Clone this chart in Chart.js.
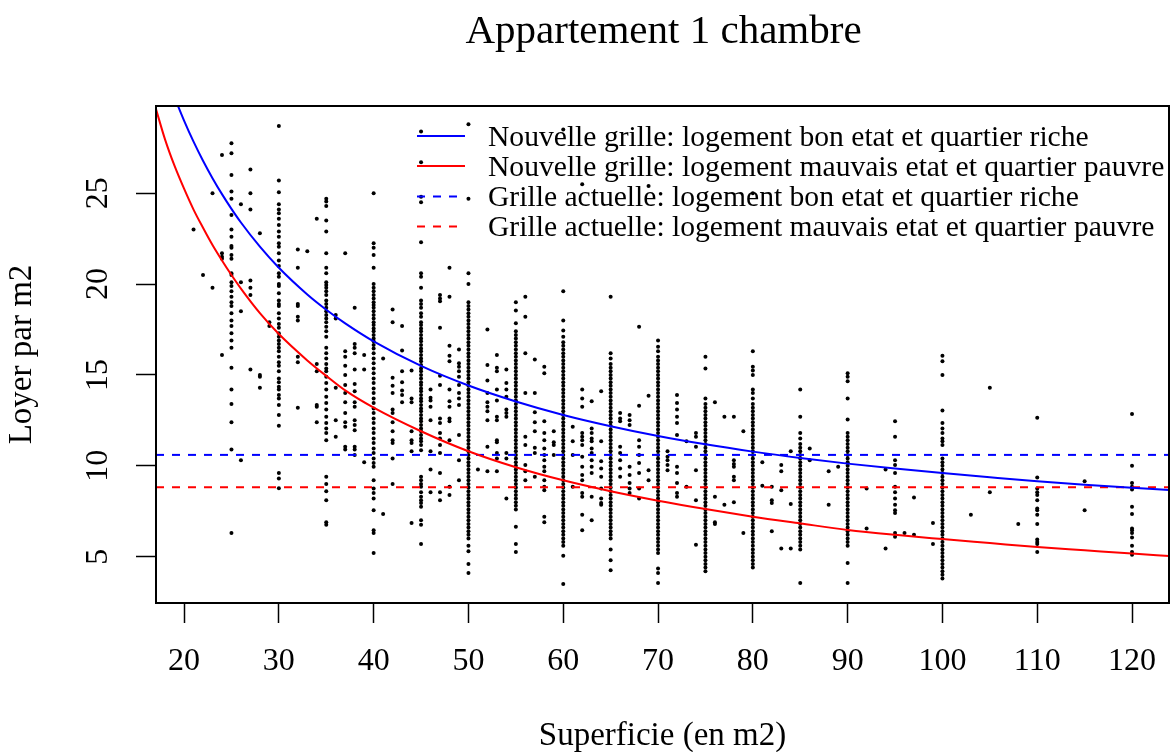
<!DOCTYPE html>
<html>
<head>
<meta charset="utf-8">
<script src="https://cdn.jsdelivr.net/npm/chart.js@4.4.0/dist/chart.umd.min.js"></script>
<style>
html,body{margin:0;padding:0;background:#ffffff;}
canvas{display:block;}
</style>
</head>
<body>
<canvas id="c" width="1171" height="752"></canvas>
<script>
// ---------- text ----------
const titleText = "Appartement 1 chambre";
const xTitleText = "Superficie (en m2)";
const yTitleText = "Loyer par m2";
const legendLabels = [
  "Nouvelle grille: logement bon etat et quartier riche",
  "Nouvelle grille: logement mauvais etat et quartier pauvre",
  "Grille actuelle: logement bon etat et quartier riche",
  "Grille actuelle: logement mauvais etat et quartier pauvre"
];

// ---------- axes ----------
const xTicks = [20, 30, 40, 50, 60, 70, 80, 90, 100, 110, 120];
const yTicks = [5, 10, 15, 20, 25];
const xRange = [17.04, 123.9];
const yRange = [2.45, 29.8];

// ---------- observations: surface (m2) and rents per m2 observed at that surface ----------
const surfaces = [21,22,23,24,25,26,27,28,29,30,32,33,34,35,36,37,38,39,40,41,42,43,44,45,46,47,48,49,50,51,52,53,54,55,56,57,58,59,60,61,62,63,64,65,66,67,68,69,70,71,72,73,74,75,76,77,78,79,80,81,82,83,84,85,86,88,89,90,92,94,95,96,97,99,100,103,105,108,110,115,120];
const loyers = [
  [23.0],
  [20.5],
  [25.0, 19.8],
  [27.1, 21.7, 21.5, 21.4, 16.1],
  [27.75, 27.2, 26.0, 25.1, 24.7, 23.8, 23.0, 22.6, 22.1, 22.0, 21.6, 21.4, 20.6, 20.5, 20.1, 19.9, 19.6, 19.3, 19.0, 18.8, 18.4, 18.0, 17.7, 17.3, 16.9, 16.5, 15.4, 14.2, 13.4, 12.4, 10.9, 6.3],
  [24.4, 20.1, 18.5, 10.3],
  [26.3, 25.0, 24.1, 20.2, 19.8, 19.4, 15.3],
  [22.8, 15.0, 14.9, 14.3],
  [17.9, 17.7],
  [28.7, 25.7, 25.05, 24.4, 24.1, 23.9, 23.6, 23.25, 22.9, 22.6, 22.25, 22.05, 21.7, 21.3, 21.0, 20.6, 20.4, 20.0, 19.9, 19.5, 19.1, 18.9, 18.8, 18.4, 18.1, 17.8, 17.6, 17.3, 17.1, 16.9, 16.7, 16.5, 16.3, 16.0, 15.7, 15.5, 15.2, 14.8, 14.6, 14.35, 14.2, 13.9, 13.7, 13.35, 12.8, 12.2, 9.6, 9.3, 8.76],
  [21.9, 20.9, 18.9, 18.8, 18.2, 18.0, 16.0, 15.7, 13.2],
  [21.8],
  [23.6, 15.6, 15.2, 13.35, 13.25, 12.4],
  [24.7, 24.55, 24.3, 23.5, 22.9, 21.7, 20.9, 20.6, 20.1, 19.95, 19.8, 19.6, 19.4, 19.1, 18.9, 18.7, 18.5, 18.3, 18.1, 17.9, 17.65, 17.4, 17.1, 16.5, 16.2, 15.9, 15.6, 15.35, 15.2, 14.9, 14.55, 14.2, 13.8, 13.45, 13.1, 12.7, 12.35, 12.05, 11.8, 11.4, 9.4, 9.0, 8.6, 8.1, 6.9, 6.75],
  [18.3, 18.1, 14.3, 12.5, 11.6],
  [21.7, 16.3, 16.0, 15.5, 15.0, 14.45, 14.0, 13.5, 12.9, 12.4, 12.15, 11.05, 10.9],
  [18.7, 16.7, 16.5, 16.2, 15.3, 14.5, 14.1, 13.5, 13.25, 12.5, 12.25, 11.95, 11.05, 10.9, 10.6],
  [16.1, 15.3, 10.2],
  [25.0, 22.25, 22.0, 21.6, 20.9, 20.0, 19.8, 19.6, 19.4, 19.2, 19.0, 18.85, 18.7, 18.5, 18.3, 18.1, 17.9, 17.75, 17.55, 17.4, 17.2, 17.0, 16.85, 16.65, 16.45, 16.2, 15.9, 15.65, 15.35, 15.1, 14.8, 14.55, 14.25, 14.0, 13.7, 13.45, 13.15, 12.9, 12.6, 12.35, 12.05, 11.8, 11.5, 11.25, 10.95, 10.7, 10.4, 10.15, 9.95, 9.2, 8.75, 8.5, 8.2, 7.55, 6.45, 6.3, 5.2],
  [15.9, 7.35],
  [18.6, 17.9, 14.85, 14.4, 14.0, 13.1, 12.9, 12.4, 11.9, 11.4, 11.25, 10.4, 9.0],
  [17.7, 16.35, 15.2, 14.6, 14.15, 13.9, 13.5],
  [15.25, 13.7, 13.5, 11.9, 11.4, 11.25, 10.8, 6.85],
  [28.4, 26.7, 24.8, 24.5, 22.3, 20.6, 20.4, 19.8, 19.1, 18.9, 18.7, 18.4, 18.2, 17.9, 17.75, 17.55, 17.4, 17.2, 17.0, 16.85, 16.65, 16.45, 16.3, 16.1, 15.9, 15.75, 15.55, 15.35, 15.2, 15.0, 14.8, 14.6, 14.45, 14.25, 14.1, 13.9, 13.7, 13.55, 13.35, 13.15, 13.0, 12.8, 12.6, 12.45, 12.25, 12.05, 11.9, 11.7, 11.5, 11.35, 11.15, 10.85, 9.4, 9.2, 9.0, 8.85, 8.55, 8.3, 8.1, 7.95, 7.75, 7.0, 6.75, 5.7],
  [14.2, 13.75, 13.6, 13.25, 12.5, 10.8, 9.8, 8.55],
  [19.4, 19.2, 19.05, 17.6, 14.95, 14.45, 12.6, 12.35, 11.8, 11.5, 11.15, 10.7, 9.6, 8.55, 8.1],
  [20.9, 19.3, 16.6, 16.05, 15.75, 14.2, 13.55, 13.25, 12.6, 12.45, 11.4, 8.85, 8.4],
  [16.4, 15.65, 15.45, 15.2, 14.9, 14.45, 14.0, 13.7, 13.35, 11.7, 10.3, 9.2],
  [28.8, 24.7, 20.6, 20.0, 19.0, 18.8, 18.6, 18.4, 18.2, 18.0, 17.8, 17.6, 17.4, 17.2, 17.0, 16.8, 16.6, 16.4, 16.2, 16.0, 15.8, 15.6, 15.4, 15.2, 15.0, 14.8, 14.6, 14.4, 14.2, 14.0, 13.8, 13.6, 13.4, 13.2, 13.0, 12.8, 12.6, 12.4, 12.2, 12.0, 11.8, 11.6, 11.4, 11.2, 11.0, 10.8, 10.6, 10.4, 10.2, 10.0, 9.8, 9.6, 9.4, 9.2, 9.0, 8.8, 8.6, 8.4, 8.2, 8.0, 7.8, 7.6, 7.4, 7.2, 7.0, 6.8, 6.6, 6.4, 6.2, 6.0, 5.6, 5.3, 4.6, 4.1],
  [9.8],
  [17.5, 15.55, 14.7, 14.0, 13.5, 13.25, 13.0, 12.5, 11.05, 9.7],
  [16.1, 15.4, 15.2, 14.2, 13.6, 12.7, 12.5, 11.4, 11.3, 10.7, 10.4, 9.7],
  [15.3, 14.55, 14.2, 13.8, 13.1, 12.9, 12.7, 10.7, 10.4, 8.2],
  [19.0, 18.55, 17.85, 17.4, 17.2, 17.0, 16.8, 16.6, 16.4, 16.2, 16.0, 15.8, 15.6, 15.4, 15.2, 15.0, 14.8, 14.6, 14.4, 14.2, 14.0, 13.8, 13.6, 13.4, 13.2, 13.0, 12.8, 12.6, 12.4, 12.2, 12.0, 11.8, 11.6, 11.4, 11.2, 11.0, 10.8, 10.6, 10.4, 10.2, 10.0, 9.8, 9.6, 9.4, 9.2, 9.0, 8.8, 8.6, 8.4, 8.2, 8.0, 7.8, 7.6, 6.65, 5.7, 5.25],
  [19.3, 18.2, 16.2, 14.0, 11.6, 11.15, 10.05, 9.7, 9.2],
  [15.85, 14.0, 12.95, 12.4, 11.9, 11.0, 10.7, 9.4],
  [15.45, 15.1, 12.45, 11.8, 11.4, 10.95, 10.6, 10.3, 9.95, 9.7, 9.2, 8.85, 8.65, 7.2, 6.9],
  [11.9, 11.3, 11.15, 10.6],
  [28.5, 19.6, 18.0, 17.45, 17.1, 16.8, 16.6, 16.4, 16.2, 16.0, 15.8, 15.6, 15.4, 15.2, 15.0, 14.8, 14.6, 14.4, 14.2, 14.0, 13.8, 13.6, 13.4, 13.2, 13.0, 12.8, 12.6, 12.4, 12.2, 12.0, 11.8, 11.6, 11.4, 11.2, 11.0, 10.8, 10.6, 10.4, 10.2, 10.0, 9.8, 9.6, 9.4, 9.2, 9.0, 8.8, 8.6, 8.4, 8.2, 8.0, 7.8, 7.6, 7.4, 7.2, 7.0, 6.8, 6.6, 6.4, 6.2, 6.0, 5.8, 5.6, 5.05, 3.5],
  [12.15, 11.35, 10.6, 8.85],
  [25.5, 14.2, 13.7, 13.25, 11.8, 11.6, 11.4, 11.15, 10.5, 9.95, 9.5, 9.2, 8.5, 8.3, 7.3, 6.45],
  [13.55, 12.05, 11.8, 11.5, 11.35, 10.95, 10.7, 10.3, 9.95, 9.6, 8.3, 7.0],
  [14.1, 11.35, 10.25, 9.85, 9.4, 8.75, 8.2, 7.95, 7.85],
  [19.3, 16.2, 15.9, 15.6, 15.4, 15.2, 15.0, 14.8, 14.6, 14.4, 14.2, 14.0, 13.8, 13.6, 13.4, 13.2, 13.0, 12.8, 12.6, 12.4, 12.2, 12.0, 11.8, 11.6, 11.4, 11.2, 11.0, 10.8, 10.6, 10.4, 10.2, 10.0, 9.8, 9.6, 9.4, 9.2, 9.0, 8.8, 8.6, 8.4, 8.2, 8.0, 7.8, 7.6, 7.4, 7.2, 7.0, 6.8, 6.6, 6.4, 6.2, 6.0, 5.4, 4.8, 4.25],
  [12.9, 12.6, 12.45, 11.05, 10.7, 10.3, 9.85, 9.4],
  [12.8, 12.5, 12.25, 9.95, 9.5, 9.05, 8.75, 8.5],
  [17.65, 13.3, 11.4, 11.05, 10.6, 10.15, 9.6, 8.75, 8.2],
  [25.4, 13.85, 9.75, 9.2],
  [16.9, 16.55, 16.3, 16.0, 15.8, 15.6, 15.4, 15.2, 15.0, 14.8, 14.6, 14.4, 14.2, 14.0, 13.8, 13.6, 13.4, 13.2, 13.0, 12.8, 12.6, 12.4, 12.2, 12.0, 11.8, 11.6, 11.4, 11.2, 11.0, 10.8, 10.6, 10.4, 10.2, 10.0, 9.8, 9.6, 9.4, 9.2, 9.0, 8.8, 8.6, 8.4, 8.2, 8.0, 7.8, 7.6, 7.4, 7.2, 7.0, 6.8, 6.6, 6.4, 6.2, 6.0, 5.8, 5.6, 5.4, 5.2, 4.35, 4.1, 3.55],
  [10.8, 10.5, 10.3, 10.05, 9.75],
  [13.9, 13.45, 13.1, 12.7, 12.35, 11.7, 9.95, 9.6, 9.05, 8.5, 8.3],
  [11.35, 8.85],
  [11.8, 11.6, 11.05, 9.75, 8.1, 5.65],
  [16.0, 15.35, 13.7, 13.4, 13.2, 13.0, 12.8, 12.6, 12.4, 12.2, 12.0, 11.8, 11.6, 11.4, 11.2, 11.0, 10.8, 10.6, 10.4, 10.2, 10.0, 9.8, 9.6, 9.4, 9.2, 9.0, 8.8, 8.6, 8.4, 8.2, 8.0, 7.8, 7.6, 7.4, 7.2, 7.0, 6.8, 6.6, 6.4, 6.2, 6.0, 5.8, 5.6, 5.4, 5.2, 5.0, 4.8, 4.6, 4.4, 4.2],
  [13.5, 8.3, 6.9, 6.8],
  [12.7, 7.85],
  [12.7, 10.3, 10.1, 9.95, 9.4, 9.2, 8.0],
  [11.9, 6.3],
  [25.0, 16.3, 15.45, 15.25, 15.0, 14.2, 14.0, 13.7, 13.4, 13.2, 13.0, 12.8, 12.6, 12.4, 12.2, 12.0, 11.8, 11.6, 11.4, 11.2, 11.0, 10.8, 10.6, 10.4, 10.2, 10.0, 9.8, 9.6, 9.4, 9.2, 9.0, 8.8, 8.6, 8.4, 8.2, 8.0, 7.8, 7.6, 7.4, 7.2, 7.0, 6.8, 6.6, 6.4, 6.2, 6.0, 5.8, 5.6, 5.4, 5.2, 5.0, 4.8, 4.6, 4.4],
  [10.2, 8.9],
  [8.85, 8.1, 7.95, 6.4],
  [10.05, 9.7, 8.65, 5.45],
  [10.8, 7.9, 5.45],
  [14.2, 12.7, 11.8, 11.5, 11.2, 11.0, 10.8, 10.6, 10.4, 10.2, 10.0, 9.8, 9.6, 9.4, 9.2, 9.0, 8.8, 8.6, 8.4, 8.2, 8.0, 7.8, 7.6, 7.4, 7.2, 7.0, 6.8, 6.6, 6.4, 6.2, 6.0, 5.8, 5.6, 5.4, 3.55],
  [10.95, 10.3],
  [9.7, 7.85],
  [9.95],
  [15.1, 14.9, 14.65, 13.7, 12.55, 11.8, 11.6, 11.4, 11.2, 11.0, 10.8, 10.6, 10.4, 10.2, 10.0, 9.8, 9.6, 9.4, 9.2, 9.0, 8.8, 8.6, 8.4, 8.2, 8.0, 7.8, 7.6, 7.4, 7.2, 7.0, 6.8, 6.6, 6.4, 6.2, 6.0, 5.8, 5.6, 4.65, 3.55],
  [8.75, 6.55],
  [9.8, 5.45],
  [12.45, 11.6, 10.3, 10.05, 9.6, 8.85, 8.55, 8.2, 7.85, 7.55, 7.4, 6.3, 6.1],
  [6.3],
  [8.25, 6.2],
  [6.85, 5.7],
  [16.05, 15.75, 15.0, 13.05, 12.35, 12.05, 11.8, 11.5, 11.35, 11.15, 10.4, 10.2, 10.0, 9.8, 9.6, 9.4, 9.2, 9.0, 8.8, 8.6, 8.4, 8.2, 8.0, 7.8, 7.6, 7.4, 7.2, 7.0, 6.8, 6.6, 6.4, 6.2, 6.0, 5.8, 5.6, 5.4, 5.2, 5.0, 4.8, 4.6, 4.4, 4.2, 4.0, 3.8],
  [7.3],
  [14.3, 8.55],
  [6.8],
  [12.65, 9.35, 8.75, 8.55, 8.4, 8.1, 7.65, 7.55, 7.3, 6.8, 5.95, 5.8, 5.7, 5.25],
  [9.15, 7.55],
  [12.85, 10.0, 9.05, 8.85, 8.7, 7.75, 7.35, 6.55, 6.45, 6.3, 6.05, 5.6, 5.25, 5.1]
];

// ---------- grids (curves) ----------
const curveX = [17, 18, 19, 20, 21, 22, 23, 24, 25, 26, 28, 30, 33, 35, 37, 40, 45, 50, 55, 60, 65, 70, 75, 80, 85, 90, 95, 100, 105, 110, 115, 120, 124];
const nouvelleBon = [33.3, 31.7, 30.28, 29.0, 27.84, 26.79, 25.83, 24.95, 24.14, 23.39, 22.06, 20.9, 19.43, 18.59, 17.84, 16.85, 15.5, 14.42, 13.54, 12.8, 12.18, 11.64, 11.18, 10.78, 10.43, 10.12, 9.85, 9.6, 9.37, 9.15, 8.96, 8.79, 8.67];
const nouvelleMauvais = [29.7, 27.95, 26.5, 25.25, 24.1, 23.1, 22.15, 21.3, 20.5, 19.75, 18.4, 17.25, 15.8, 14.95, 14.15, 13.2, 11.9, 10.8, 9.92, 9.2, 8.6, 8.08, 7.62, 7.2, 6.83, 6.47, 6.2, 5.97, 5.75, 5.53, 5.35, 5.17, 5.03];
const actuelleBon = 10.6;
const actuelleMauvais = 8.82;

// ---------- build ----------
const SERIF = "'Liberation Serif', 'Times New Roman', Times, serif";
const points = surfaces.flatMap((s, i) => loyers[i].map(v => ({x: s, y: v})));
const toXY = (xs, ys) => xs.map((x, i) => ({x: x, y: ys[i]}));
const hline = (v) => [{x: xRange[0], y: v}, {x: xRange[1], y: v}];

const legendItems = [
  {text: legendLabels[0], color: '#0000ff', dash: []},
  {text: legendLabels[1], color: '#ff0000', dash: []},
  {text: legendLabels[2], color: '#0000ff', dash: [8, 8]},
  {text: legendLabels[3], color: '#ff0000', dash: [8, 8]}
];

const decorPlugin = {
  id: 'decor',
  afterDatasetsDraw(chart) {
    const ctx = chart.ctx;
    const a = chart.chartArea;
    ctx.save();
    // legend (no box, like R bty="n")
    const lx0 = a.left + 261, lx1 = a.left + 309, tx = a.left + 332;
    const rowY = [136, 166, 196.5, 226.5];
    ctx.font = "29.6px " + SERIF;
    ctx.textBaseline = 'alphabetic';
    ctx.textAlign = 'left';
    legendItems.forEach((it, i) => {
      const y = rowY[i];
      ctx.beginPath();
      ctx.setLineDash(it.dash);
      ctx.strokeStyle = it.color;
      ctx.lineWidth = 2;
      ctx.moveTo(lx0, y); ctx.lineTo(lx1, y);
      ctx.stroke();
      ctx.setLineDash([]);
      ctx.fillStyle = '#000';
      ctx.fillText(it.text, tx, y + 9.5);
    });
    ctx.restore();
  },
  afterDraw(chart) {
    const ctx = chart.ctx;
    const a = chart.chartArea;
    ctx.save();
    ctx.strokeStyle = '#000';
    ctx.lineWidth = 2;
    ctx.strokeRect(a.left, a.top, a.right - a.left, a.bottom - a.top);
    ctx.fillStyle = '#000';
    ctx.font = "41px " + SERIF;
    ctx.textAlign = 'center';
    ctx.textBaseline = 'alphabetic';
    ctx.fillText(titleText, (a.left + a.right) / 2 + 1, 43);
    ctx.restore();
  }
};

new Chart(document.getElementById('c'), {
  type: 'scatter',
  data: {
    datasets: [
      {label: legendLabels[0], data: toXY(curveX, nouvelleBon), showLine: true, borderColor: '#0000ff', borderWidth: 2, pointRadius: 0, cubicInterpolationMode: 'monotone', clip: 0, order: 1},
      {label: legendLabels[1], data: toXY(curveX, nouvelleMauvais), showLine: true, borderColor: '#ff0000', borderWidth: 2, pointRadius: 0, cubicInterpolationMode: 'monotone', clip: 0, order: 2},
      {label: legendLabels[2], data: hline(actuelleBon), showLine: true, borderColor: '#0000ff', borderWidth: 2, borderDash: [8, 8], pointRadius: 0, clip: 0, order: 3},
      {label: legendLabels[3], data: hline(actuelleMauvais), showLine: true, borderColor: '#ff0000', borderWidth: 2, borderDash: [8, 8], pointRadius: 0, clip: 0, order: 4},
      {label: 'observations', data: points, pointRadius: 2.0, pointBackgroundColor: '#000', pointBorderWidth: 0, pointHoverRadius: 2.0, order: 10}
    ]
  },
  options: {
    responsive: false,
    animation: false,
    devicePixelRatio: 1,
    layout: {padding: {left: 0, right: 2, top: 106, bottom: 0}},
    plugins: {legend: {display: false}, tooltip: {enabled: false}, title: {display: false}},
    events: [],
    scales: {
      x: {
        type: 'linear',
        min: xRange[0], max: xRange[1],
        afterBuildTicks: (s) => { s.ticks = xTicks.map(v => ({value: v})); },
        afterFit: (s) => { s.height = 149; s.paddingLeft = 0; s.paddingRight = 0; },
        grid: {display: true, drawOnChartArea: false, drawTicks: true, tickLength: 20, tickColor: '#000', tickWidth: 1.5},
        border: {display: false},
        ticks: {color: '#000', font: {family: SERIF, size: 32}, padding: 19, maxRotation: 0, autoSkip: false},
        title: {display: true, text: xTitleText, color: '#000', font: {family: SERIF, size: 33, lineHeight: 0.95}, padding: {top: 0, bottom: 0}}
      },
      y: {
        type: 'linear',
        min: yRange[0], max: yRange[1],
        afterBuildTicks: (s) => { s.ticks = yTicks.map(v => ({value: v})); },
        afterFit: (s) => { s.width = 156; s.paddingTop = 0; s.paddingBottom = 0; },
        grid: {display: true, drawOnChartArea: false, drawTicks: true, tickLength: 20, tickColor: '#000', tickWidth: 1.5},
        border: {display: false},
        ticks: {color: '#000', font: {family: SERIF, size: 32}, padding: 21, minRotation: 90, maxRotation: 90, crossAlign: 'center', autoSkip: false},
        title: {display: true, text: yTitleText, color: '#000', font: {family: SERIF, size: 33}, padding: {top: 3, bottom: 0}}
      }
    }
  },
  plugins: [decorPlugin]
});
</script>
</body>
</html>
